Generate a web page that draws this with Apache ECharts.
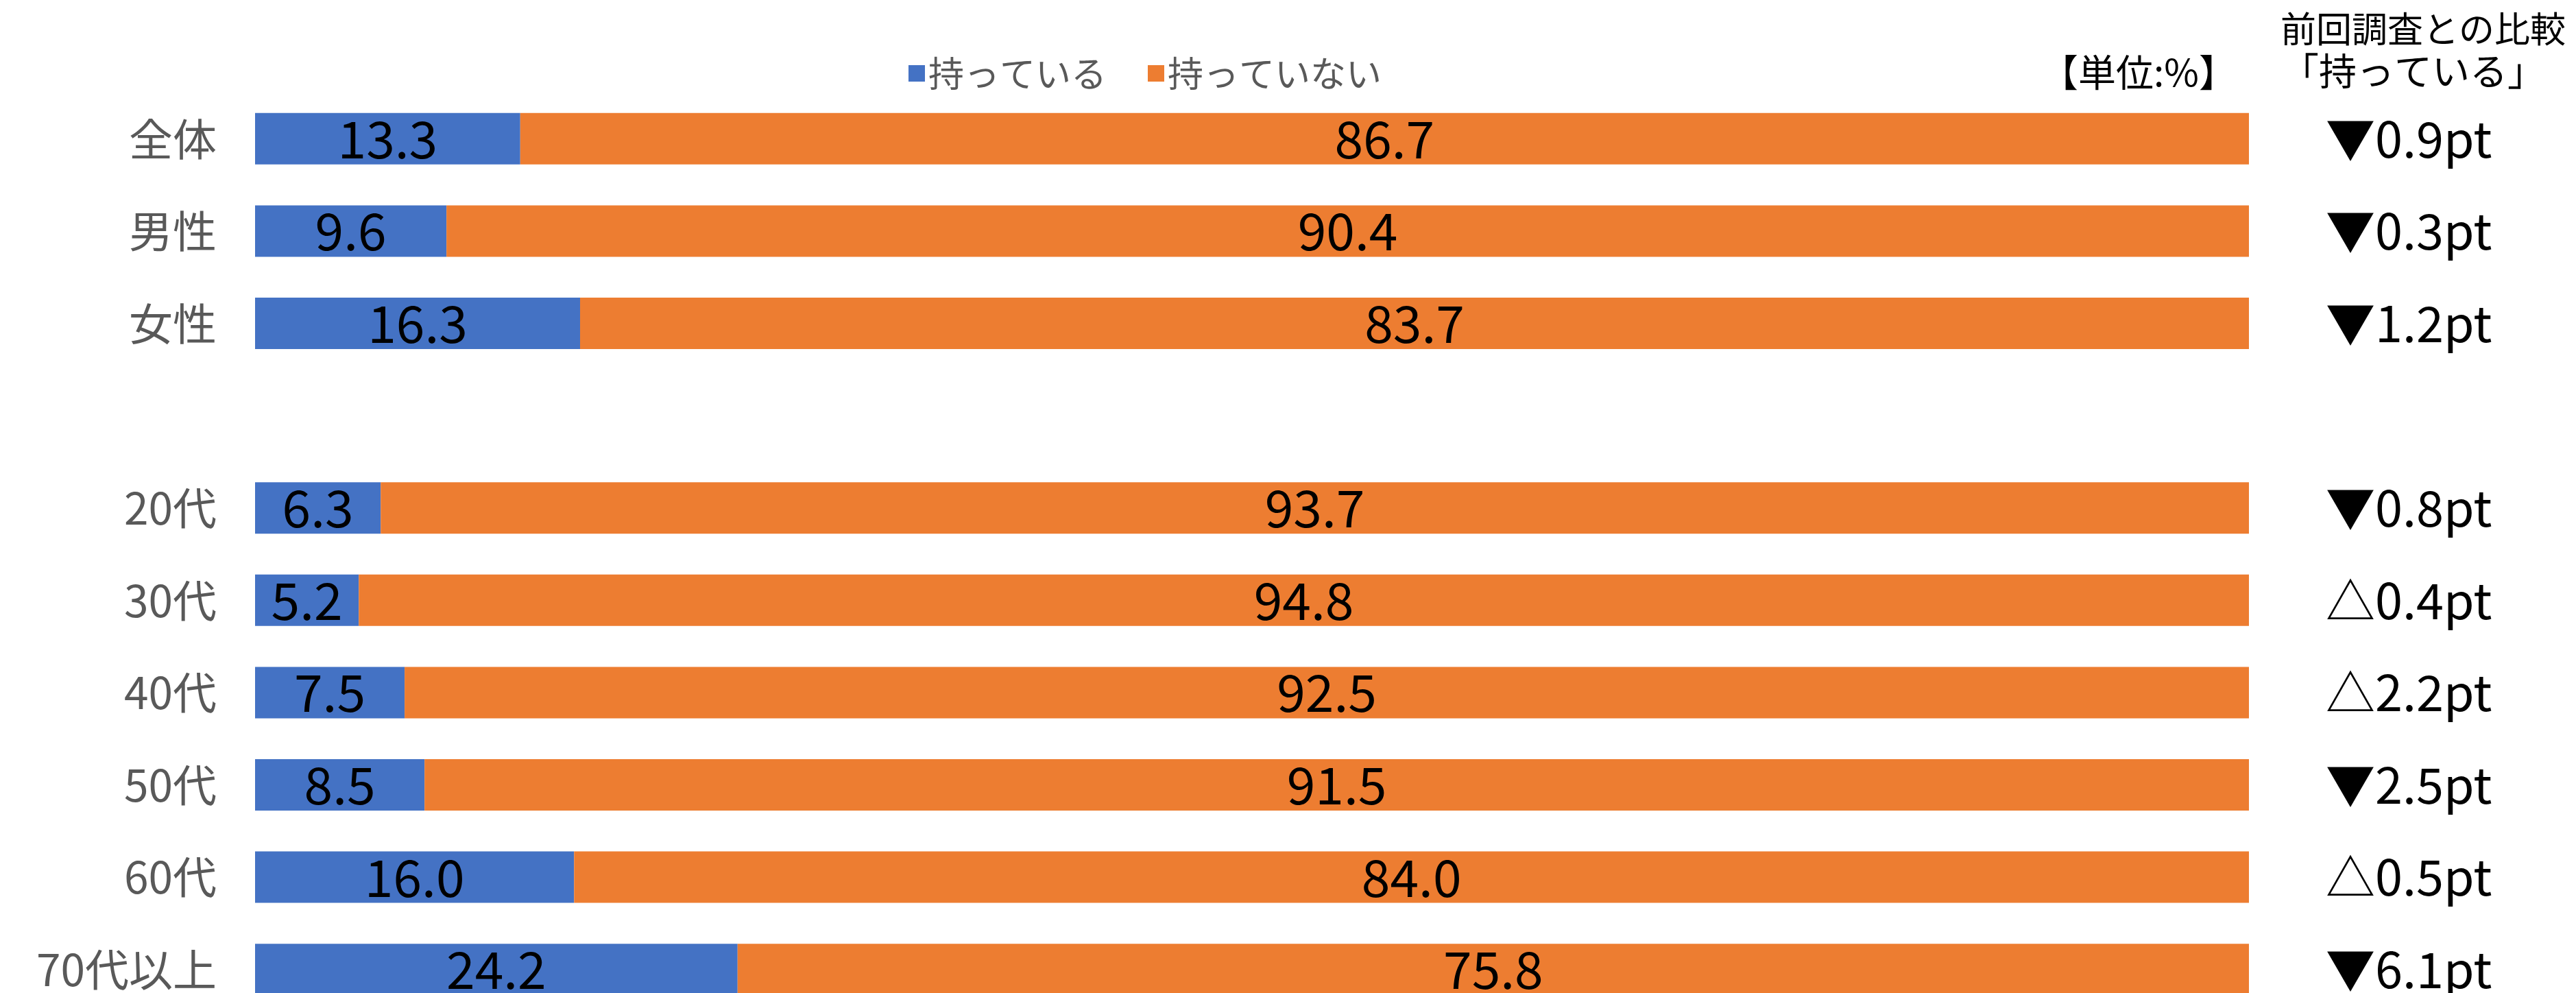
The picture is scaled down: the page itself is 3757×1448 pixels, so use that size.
<!DOCTYPE html>
<html>
<head>
<meta charset="utf-8">
<script src="https://cdn.jsdelivr.net/npm/echarts@6/dist/echarts.min.js"></script>
<style>
    html, body { margin: 0; padding: 0; background: #fff; }
    #chart { width: 3757px; height: 1448px; }
</style>
</head>
<body>
<div id="chart"></div>
<script>
// rows top to bottom, '' is the blank spacer row
var categories = ['全体', '男性', '女性', '', '20代', '30代', '40代', '50代', '60代', '70代以上'];
var have = [13.3, 9.6, 16.3, null, 6.3, 5.2, 7.5, 8.5, 16.0, 24.2];
var notHave = [86.7, 90.4, 83.7, null, 93.7, 94.8, 92.5, 91.5, 84.0, 75.8];
// change vs previous survey for 持っている
var diffs = ['▼0.9pt', '▼0.3pt', '▼1.2pt', '', '▼0.8pt', '△0.4pt', '△2.2pt', '▼2.5pt', '△0.5pt', '▼6.1pt'];

var font = '"Noto Sans CJK JP", "Noto Sans", sans-serif';

var myChart = echarts.init(document.getElementById('chart'));

var labelStyle = {
    show: true,
    position: 'inside',
    color: '#000',
    fontSize: 75,
    fontFamily: font,
    formatter: function (p) {
        return p.value == null ? '' : p.value.toFixed(1);
    }
};

var option = {
    animation: false,
    backgroundColor: '#fff',
    textStyle: { fontFamily: font },
    legend: {
        left: 1320,
        top: 76,
        itemWidth: 24,
        itemHeight: 24,
        itemGap: 60,
        icon: 'rect',
        textStyle: { fontSize: 52, color: '#595959', fontFamily: font },
        data: ['持っている', '持っていない']
    },
    graphic: [
        {
            type: 'text',
            left: 2976,
            top: 78,
            style: { text: '【単位:%】', fill: '#000', font: '55px ' + font }
        },
        {
            type: 'text',
            left: 3326,
            top: 16,
            style: { text: '前回調査との比較', fill: '#000', font: '52px ' + font }
        },
        {
            type: 'text',
            left: 3327,
            top: 76,
            style: { text: '「持っている」', fill: '#000', font: '55px ' + font }
        }
    ],
    grid: {
        left: 372,
        top: 135,
        width: 2908,
        height: 1346,
        outerBoundsMode: 'none'
    },
    xAxis: {
        type: 'value',
        min: 0,
        max: 100,
        show: false
    },
    yAxis: [
        {
            type: 'category',
            inverse: true,
            data: categories,
            axisLine: { show: false },
            axisTick: { show: false },
            axisLabel: {
                margin: 56,
                fontSize: 64,
                color: '#595959',
                fontFamily: font
            }
        },
        {
            type: 'category',
            inverse: true,
            position: 'right',
            data: categories,
            axisLine: { show: false },
            axisTick: { show: false },
            axisLabel: {
                margin: 112,
                fontSize: 72,
                color: '#000',
                fontFamily: font,
                align: 'left',
                formatter: function (value, index) {
                    return diffs[index];
                }
            }
        }
    ],
    series: [
        {
            name: '持っている',
            type: 'bar',
            stack: 'total',
            barWidth: 75,
            itemStyle: { color: '#4472C4' },
            label: labelStyle,
            data: have
        },
        {
            name: '持っていない',
            type: 'bar',
            stack: 'total',
            barWidth: 75,
            itemStyle: { color: '#ED7D31' },
            label: labelStyle,
            data: notHave
        }
    ]
};
myChart.setOption(option);
</script>
</body>
</html>
